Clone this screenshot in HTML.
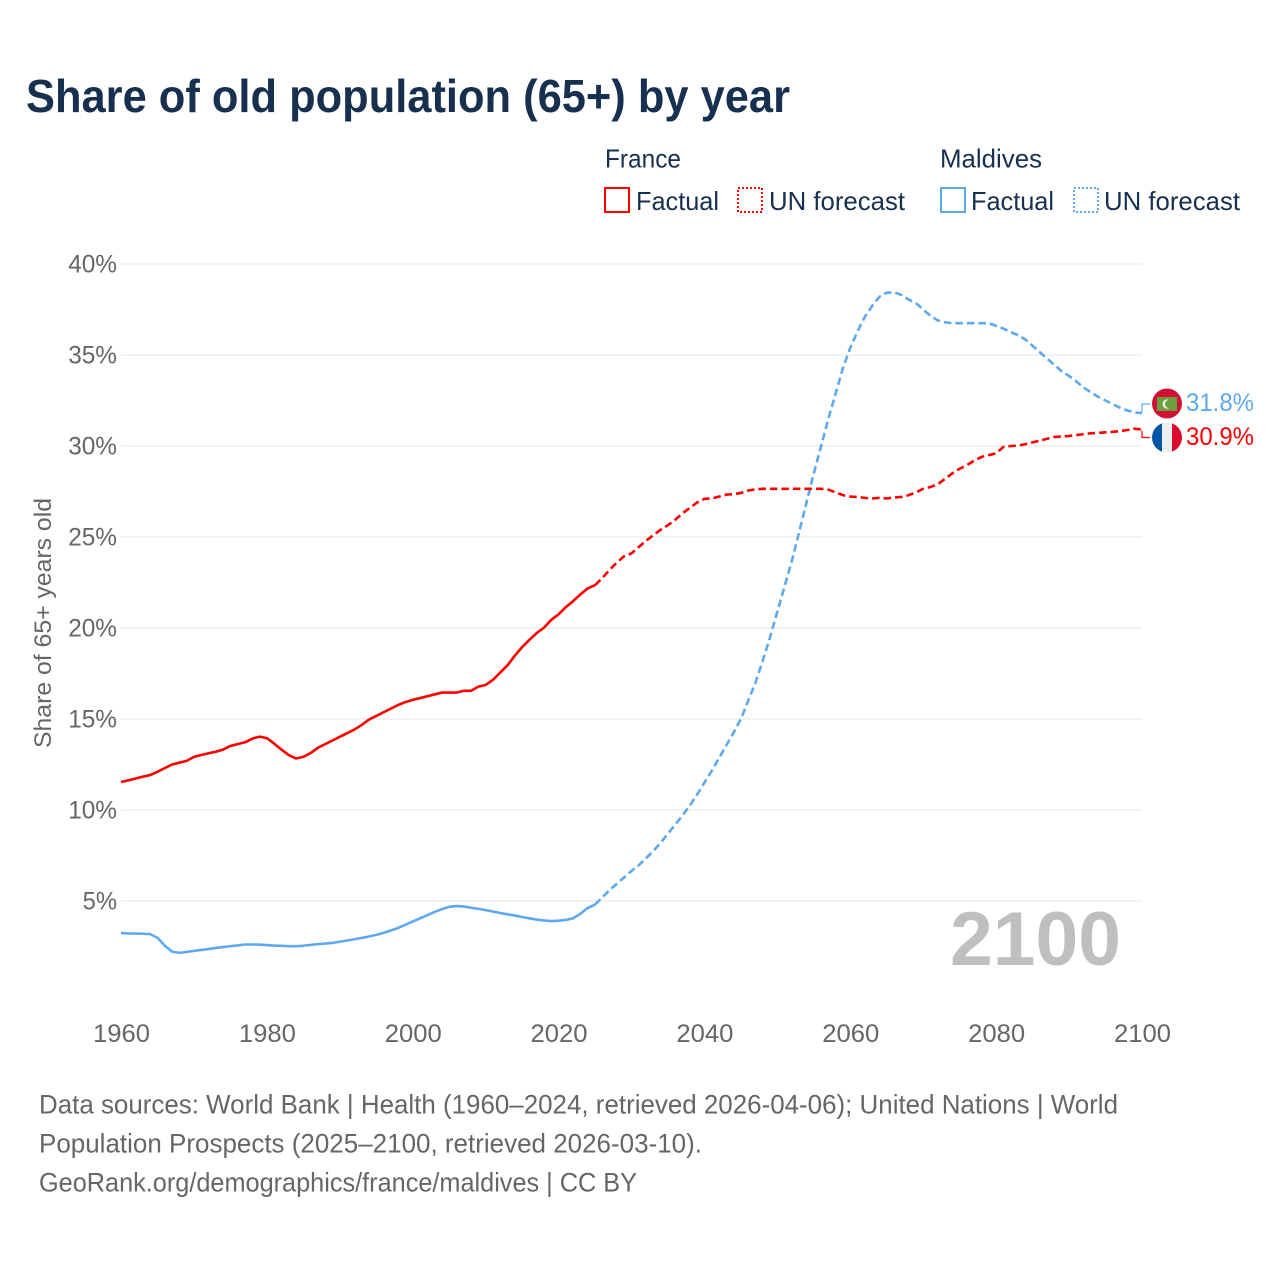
<!DOCTYPE html>
<html lang="en">
<head>
<meta charset="utf-8">
<title>Share of old population (65+) by year</title>
<style>
html,body{margin:0;padding:0;background:#fff;}
svg{display:block;font-family:"Liberation Sans",sans-serif;}
.leg{font-size:26px;fill:#17304f;}
.foot{font-size:26.5px;fill:#666;}
.tick{font-size:25px;fill:#666;}
</style>
</head>
<body>
<svg id="chart" width="1280" height="1280" viewBox="0 0 1280 1280" xmlns="http://www.w3.org/2000/svg">
  <defs>
    <clipPath id="clip-mv"><circle cx="1167" cy="403.5" r="15"/></clipPath>
    <clipPath id="clip-fr"><circle cx="1167" cy="437.5" r="15"/></clipPath>
  </defs>
  <rect width="1280" height="1280" fill="#fff"/>
  <text x="26" y="112" font-size="46" font-weight="700" fill="#17304f" textLength="764" lengthAdjust="spacingAndGlyphs">Share of old population (65+) by year</text>

  <g>
    <text class="leg" x="605" y="167.5" textLength="76" lengthAdjust="spacingAndGlyphs">France</text>
    <text class="leg" x="940" y="167.5" textLength="102" lengthAdjust="spacingAndGlyphs">Maldives</text>
    <rect x="605" y="188" width="24" height="24" fill="none" stroke="#ff0000" stroke-width="2" shape-rendering="crispEdges"/>
    <text class="leg" x="636" y="210" textLength="83" lengthAdjust="spacingAndGlyphs">Factual</text>
    <rect x="738" y="188" width="24" height="24" fill="none" stroke="#ff0000" stroke-width="2" stroke-dasharray="2 2" shape-rendering="crispEdges"/>
    <text class="leg" x="769" y="210" textLength="136" lengthAdjust="spacingAndGlyphs">UN forecast</text>
    <rect x="941" y="188" width="24" height="24" fill="none" stroke="#5ea9ee" stroke-width="2" shape-rendering="crispEdges"/>
    <text class="leg" x="971" y="210" textLength="83" lengthAdjust="spacingAndGlyphs">Factual</text>
    <rect x="1074" y="188" width="24" height="24" fill="none" stroke="#5ea9ee" stroke-width="2" stroke-dasharray="2 2" shape-rendering="crispEdges"/>
    <text class="leg" x="1104" y="210" textLength="136" lengthAdjust="spacingAndGlyphs">UN forecast</text>
  </g>

  <text transform="translate(51,748) rotate(-90)" font-size="24.5" fill="#666" textLength="250" lengthAdjust="spacingAndGlyphs">Share of 65+ years old</text>

  <g id="grid"></g>
  <g id="y-labels"></g>
  <g id="x-labels"></g>

  <text x="950" y="965" font-size="76" font-weight="700" fill="#bfbfbf" textLength="171" lengthAdjust="spacingAndGlyphs">2100</text>

  <g id="series"></g>

  <g clip-path="url(#clip-mv)">
    <rect x="1152" y="388" width="30" height="31" fill="#d21034"/>
    <rect x="1157" y="397" width="20" height="14" fill="#6a9f3f"/>
    <circle cx="1167" cy="404" r="4.6" fill="#e9efe0"/>
    <circle cx="1169" cy="404" r="4" fill="#6a9f3f"/>
  </g>
  <g clip-path="url(#clip-fr)">
    <rect x="1152" y="422" width="10" height="31" fill="#0055a4"/>
    <rect x="1162" y="422" width="10" height="31" fill="#eeeeee"/>
    <rect x="1172" y="422" width="10" height="31" fill="#dc0a2d"/>
  </g>

  <g>
    <text class="foot" x="39" y="1113.5" textLength="1079" lengthAdjust="spacingAndGlyphs">Data sources: World Bank | Health (1960–2024, retrieved 2026-04-06); United Nations | World</text>
    <text class="foot" x="39" y="1152.5" textLength="663" lengthAdjust="spacingAndGlyphs">Population Prospects (2025–2100, retrieved 2026-03-10).</text>
    <text class="foot" x="39" y="1191.5" textLength="598" lengthAdjust="spacingAndGlyphs">GeoRank.org/demographics/france/maldives | CC BY</text>
  </g>
</svg>
<script>
const factualStartYear = 1960;
const forecastStartYear = 2025;
const xTickYears = [1960, 1980, 2000, 2020, 2040, 2060, 2080, 2100];
const yTickValues = [5, 10, 15, 20, 25, 30, 35, 40];

const franceFactual = [
  11.54, 11.63, 11.73, 11.83, 11.92, 12.1, 12.3, 12.5, 12.6, 12.7,
  12.92, 13.02, 13.12, 13.2, 13.32, 13.52, 13.62, 13.72, 13.92, 14.03,
  13.95, 13.65, 13.32, 13.02, 12.83, 12.92, 13.13, 13.42, 13.62, 13.82,
  14.02, 14.22, 14.42, 14.67, 14.97, 15.17, 15.37, 15.57, 15.77, 15.93,
  16.05, 16.15, 16.25, 16.35, 16.45, 16.45, 16.45, 16.55, 16.55, 16.78,
  16.87, 17.15, 17.55, 17.95, 18.48, 18.95, 19.35, 19.72, 20.02, 20.45,
  20.75, 21.15, 21.48, 21.85, 22.18, 22.35
];
const franceForecast = [
  22.35, 22.75, 23.2, 23.6, 23.95,
  24.1, 24.45, 24.8, 25.1, 25.4, 25.65, 25.95, 26.3, 26.6, 26.9,
  27.1, 27.12, 27.22, 27.33, 27.35, 27.42, 27.55, 27.62, 27.65, 27.65,
  27.65, 27.65, 27.65, 27.65, 27.65, 27.65, 27.65, 27.6, 27.45, 27.3,
  27.22, 27.2, 27.15, 27.12, 27.15, 27.12, 27.17, 27.2, 27.3, 27.45,
  27.65, 27.75, 27.9, 28.2, 28.5, 28.75, 28.95, 29.2, 29.4, 29.5,
  29.6, 29.95, 30.0, 30.02, 30.1, 30.2, 30.3, 30.4, 30.5, 30.52,
  30.55, 30.6, 30.65, 30.7, 30.72, 30.75, 30.78, 30.82, 30.88, 30.95, 30.9
];
const maldivesFactual = [
  3.24, 3.22, 3.21, 3.2, 3.18, 2.98, 2.55, 2.22, 2.15, 2.2,
  2.26, 2.31, 2.36, 2.42, 2.47, 2.52, 2.56, 2.61, 2.61, 2.6,
  2.58, 2.55, 2.54, 2.52, 2.52, 2.54, 2.59, 2.63, 2.66, 2.7,
  2.76, 2.83, 2.9, 2.97, 3.05, 3.14, 3.25, 3.38, 3.52, 3.7,
  3.87, 4.05, 4.22, 4.4, 4.55, 4.68, 4.72, 4.7, 4.63, 4.57,
  4.5, 4.42, 4.34, 4.27, 4.2, 4.12, 4.05, 3.98, 3.93, 3.9,
  3.92, 3.96, 4.05, 4.3, 4.62, 4.8
];
const maldivesForecast = [
  4.8, 5.2, 5.6, 5.95, 6.3,
  6.65, 6.97, 7.35, 7.75, 8.2, 8.7, 9.2, 9.7, 10.25, 10.85,
  11.5, 12.15, 12.85, 13.55, 14.25, 15.0, 16.0, 17.0, 18.2, 19.5,
  20.9, 22.3, 23.7, 25.3, 26.9, 28.5, 30.0, 31.5, 32.9, 34.3,
  35.4, 36.3, 37.1, 37.7, 38.2, 38.42, 38.45, 38.3, 38.05, 37.85,
  37.5, 37.15, 36.9, 36.8, 36.75, 36.75, 36.75, 36.75, 36.75, 36.75,
  36.6, 36.45, 36.25, 36.1, 35.85, 35.5, 35.15, 34.8, 34.45, 34.1,
  33.85, 33.55, 33.2, 32.95, 32.7, 32.5, 32.3, 32.1, 31.95, 31.85, 31.8
];

const SVG_NS = 'http://www.w3.org/2000/svg';
function xScale(year) { return 121 + (year - 1960) * (1142 - 121) / 140; }
function yScale(pct) { return 992 - pct * 18.2; }
function make(tag, attrs, parent) {
  const el = document.createElementNS(SVG_NS, tag);
  for (const k in attrs) el.setAttribute(k, attrs[k]);
  parent.appendChild(el);
  return el;
}

const gridG = document.getElementById('grid');
const yLabelG = document.getElementById('y-labels');
const xLabelG = document.getElementById('x-labels');
const seriesG = document.getElementById('series');

yTickValues.forEach(function (v) {
  const line = make('line', { x1: 121, x2: 1142, y1: yScale(v), y2: yScale(v), stroke: '#e9e9e9', 'stroke-width': 1.2 }, gridG);
  
  
  const label = String(v) + '%';
  const t = make('text', { x: 117, y: yScale(v) + 8.5, 'text-anchor': 'end', class: 'tick', textLength: 14.4 * (label.length - 1) + 20, lengthAdjust: 'spacingAndGlyphs' }, yLabelG);
  t.textContent = label;
  
  
});

xTickYears.forEach(function (y) {
  const t = make('text', { x: xScale(y) + 0.5, y: 1042, 'text-anchor': 'middle', class: 'tick', textLength: 57, lengthAdjust: 'spacingAndGlyphs' }, xLabelG);
  t.textContent = String(y);
  
  
});

function linePoints(values, startYear) {
  return values.map(function (v, i) {
    return xScale(startYear + i).toFixed(2) + ',' + yScale(v).toFixed(2);
  }).join(' ');
}

const franceFactualLine = make('polyline', { points: linePoints(franceFactual, factualStartYear), fill: 'none', stroke: '#ff0000', 'stroke-width': 2.6, 'stroke-linejoin': 'round' }, seriesG);



const maldivesFactualLine = make('polyline', { points: linePoints(maldivesFactual, factualStartYear), fill: 'none', stroke: '#5ea9ee', 'stroke-width': 2.6, 'stroke-linejoin': 'round' }, seriesG);



const maldivesForecastLine = make('polyline', { points: linePoints(maldivesForecast, forecastStartYear), fill: 'none', stroke: '#5ea9ee', 'stroke-width': 2.6, 'stroke-dasharray': '7.5 4', 'stroke-linejoin': 'round' }, seriesG);



const franceForecastLine = make('polyline', { points: linePoints(franceForecast, forecastStartYear), fill: 'none', stroke: '#ff0000', 'stroke-width': 2.6, 'stroke-dasharray': '7.5 4', 'stroke-linejoin': 'round' }, seriesG);



const mvEnd = maldivesForecast[maldivesForecast.length - 1];
const frEnd = franceForecast[franceForecast.length - 1];

const mvConn = make('polyline', { points: '1142,' + (yScale(mvEnd) - 1) + ' 1142,404 1150,404', fill: 'none', stroke: '#5ea9ee', 'stroke-width': 1.2 }, seriesG);



const frConn = make('polyline', { points: '1142,' + (yScale(frEnd) + 1) + ' 1142,437.5 1150,437.5', fill: 'none', stroke: '#ff0000', 'stroke-width': 1.2 }, seriesG);



const mvLabel = make('text', { x: 1186, y: 411, 'font-size': 25, fill: '#5ea9ee', textLength: 68, lengthAdjust: 'spacingAndGlyphs' }, seriesG);
mvLabel.textContent = mvEnd.toFixed(1) + '%';



const frLabel = make('text', { x: 1186, y: 445, 'font-size': 25, fill: '#ff0000', textLength: 68, lengthAdjust: 'spacingAndGlyphs' }, seriesG);
frLabel.textContent = frEnd.toFixed(1) + '%';


</script>
</body>
</html>
